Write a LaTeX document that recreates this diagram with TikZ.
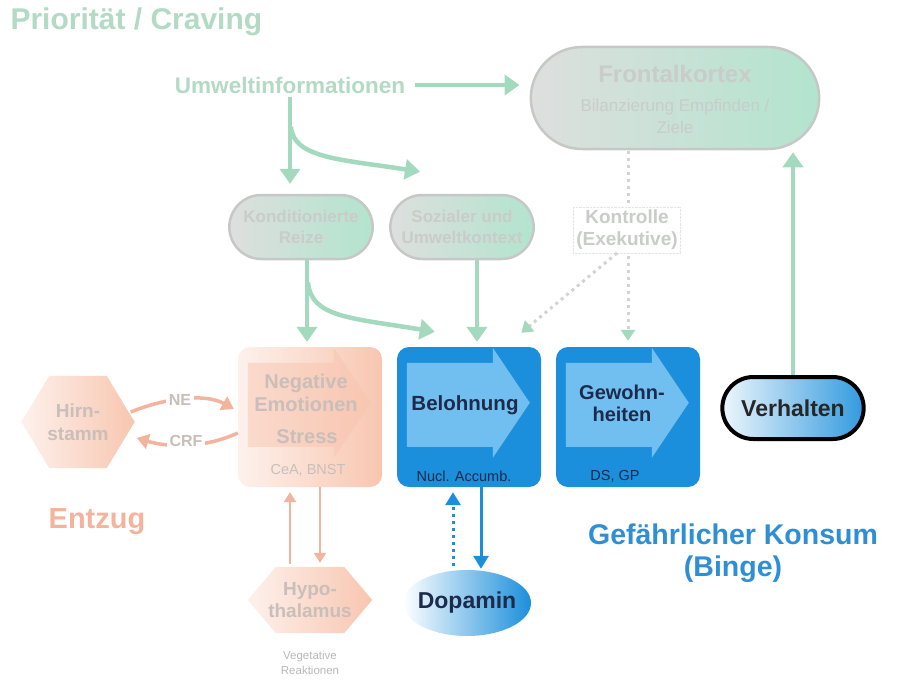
\documentclass[tikz,border=0pt]{standalone}
\usepackage{fontspec}
\setmainfont{Liberation Sans}
\usetikzlibrary{arrows.meta,shapes.misc,shapes.geometric,calc}
\definecolor{grn}{HTML}{A3D9BE}
\definecolor{grntxt}{HTML}{B2DAC4}
\definecolor{pillL}{HTML}{DEDFDE}
\definecolor{pillR}{HTML}{B2E4CE}
\definecolor{pillB}{HTML}{C6C8C6}
\definecolor{pilltxt}{HTML}{C9CCC9}
\definecolor{sal}{HTML}{F2B49C}
\definecolor{salL}{HTML}{FDF1EC}
\definecolor{salR}{HTML}{F8C6B0}
\definecolor{salA}{HTML}{F8C2AC}
\definecolor{saltxt}{HTML}{C9BEBA}
\definecolor{blu}{HTML}{1B8FDB}
\definecolor{bluL}{HTML}{70BFF0}
\definecolor{navy}{HTML}{1C2B4C}
\definecolor{konsum}{HTML}{2E8FD5}
\definecolor{dotc}{HTML}{D2D4D2}
\definecolor{vegc}{HTML}{B8B8B8}
\newcommand\fsz[2]{\fontsize{#1}{#2}\selectfont}
\newcommand\innerarr[3]{%
  \fill[#2, fill opacity=#3] ($(#1.north west)+(10,16)$) -- ($(#1.north west)+(96,16)$) -- ($(#1.north west)+(96,1)$)
    -- ($(#1.north west)+(133,56)$) -- ($(#1.north west)+(96,111)$) -- ($(#1.north west)+(96,100)$)
    -- ($(#1.north west)+(10,100)$) -- cycle;}
\begin{document}
\begin{tikzpicture}[x=1pt,y=-1pt,
  garrow/.style={draw=grn, line width=4.5pt, -{Triangle[length=15pt,width=20pt]}},
  sarrow/.style={draw=sal, line width=3.5pt, -{Triangle[length=12pt,width=15pt]}},
  sthin/.style={draw=sal, line width=2.5pt, -{Triangle[length=10pt,width=12pt]}},
  barrow/.style={draw=blu, line width=3pt, -{Triangle[length=13pt,width=15pt]}},
  dotarrow/.style={draw=dotc, line width=3pt, dash pattern=on 3pt off 4pt, -{Triangle[length=11pt,width=14pt,color=grn]}},
  pill/.style={rounded rectangle, draw=pillB, line width=2.5pt, left color=pillL, right color=pillR, text=pilltxt, align=center, font=\bfseries},
  box/.style={rectangle, rounded corners=12pt, minimum width=144pt, minimum height=140pt, inner sep=0pt},
  lbl/.style={font=\bfseries, align=center}
]
\useasboundingbox (0,0) rectangle (899,682);

% title
\node[anchor=west, text=grntxt, font=\bfseries\fsz{30}{35}] (title) at (7,22) {Priorität / Craving};

% top nodes
\node[lbl, text=grntxt, font=\bfseries\fsz{22.5}{27}] (umwelt) at (290,85) {Umweltinformationen};
\node[pill, minimum width=295pt, minimum height=102pt] (front) at (675,98) {};
\node[lbl, text=pilltxt, font=\bfseries\fsz{24}{28}] (frontt) at (675,74) {Frontalkortex};
\node[lbl, text=pilltxt, font=\fsz{17}{22}] (frontsub) at (675,116) {Bilanzierung Empfinden /\\Ziele};
\node[pill, minimum width=150pt, minimum height=64pt, font=\bfseries\fsz{17}{21}] (kond) at (301,227) {Konditionierte\\Reize};
\node[pill, minimum width=150pt, minimum height=64pt, font=\bfseries\fsz{17}{21}] (soz) at (462,227) {Sozialer und\\Umweltkontext};

% boxes
\node[box, left color=salL, right color=salR] (neg) at (310,417) {};
\innerarr{neg}{salA}{0.45}
\node[box, fill=blu] (bel) at (469,417) {};
\innerarr{bel}{bluL}{1}
\node[box, fill=blu] (gew) at (628,417) {};
\innerarr{gew}{bluL}{1}

\node[lbl, text=saltxt, font=\bfseries\fsz{20}{23}] (negt) at (306,393) {Negative\\Emotionen};
\node[lbl, text=saltxt, font=\bfseries\fsz{20}{23}] (stress) at (307,437) {Stress};
\node[lbl, text=saltxt, font=\fsz{14.5}{17}] (cea) at (308,470) {CeA, BNST};

\node[lbl, text=navy, font=\bfseries\fsz{20.5}{24}] (belt) at (465,405) {Belohnung};
\node[lbl, text=navy, font=\fsz{14.5}{17}] (nucl) at (464,476) {Nucl. Accumb.};

\node[lbl, text=navy, font=\bfseries\fsz{20}{22}] (gewt) at (622,403) {Gewohn-\\heiten};
\node[lbl, text=navy, font=\fsz{14.5}{17}] (dsgp) at (615,476) {DS, GP};

% Verhalten
\node[rounded rectangle, draw=black, line width=4pt, left color=white!92!blu, right color=blu!90!white,
      minimum width=148pt, minimum height=62pt, font=\bfseries\fsz{23}{27}, text=black!85] (verh) at (793,408) {Verhalten};

% Dopamin
\node[ellipse, left color=white, right color=blu, minimum width=128pt, minimum height=66pt, inner sep=0pt] (dopa) at (467,603) {};
\node[lbl, font=\bfseries\fsz{23}{27}, text=navy] (dopat) at (dopa) {Dopamin};

% Hirnstamm hexagon
\node[minimum width=113pt, minimum height=92pt, inner sep=0pt] (hirn) at (78,422) {};
\shade[left color=salL, right color=salR]
  (hirn.west) -- ($(hirn.north west)+(28,0)$) -- ($(hirn.north east)+(-28,0)$) -- (hirn.east)
  -- ($(hirn.south east)+(-28,0)$) -- ($(hirn.south west)+(28,0)$) -- cycle;
\node[lbl, text=saltxt, font=\bfseries\fsz{19}{23}] at (hirn) {Hirn-\\stamm};

% Hypothalamus hexagon
\node[minimum width=124pt, minimum height=66pt, inner sep=0pt] (hypo) at (310,600) {};
\shade[left color=salL, right color=salR]
  (hypo.west) -- ($(hypo.north west)+(28,0)$) -- ($(hypo.north east)+(-28,0)$) -- (hypo.east)
  -- ($(hypo.south east)+(-28,0)$) -- ($(hypo.south west)+(28,0)$) -- cycle;
\node[lbl, text=saltxt, font=\bfseries\fsz{19}{22}] at (hypo) {Hypo-\\thalamus};
\node[lbl, text=vegc, font=\fsz{11.5}{15}] (veg) at (310,663) {Vegetative\\Reaktionen};

% other texts
\node[text=sal, font=\bfseries\fsz{29}{34}] (entzug) at (97,522) {Entzug};
\node[lbl, text=konsum, font=\bfseries\fsz{28.5}{32}] (konsum) at (733,553) {Gefährlicher Konsum\\(Binge)};

% ---------- connectors ----------
% Umwelt -> Frontalkortex
\draw[garrow, shorten <=6pt, shorten >=10pt] (umwelt.east) -- (umwelt.east -| front.west);
% Umwelt -> Konditionierte
\draw[garrow, shorten >=10pt] (umwelt.south) -- (umwelt.south |- kond.north);
% Umwelt -> Sozialer (curve)
\coordinate (c1) at ($(umwelt.south)+(1,30)$);
\coordinate (c1e) at ($(soz.north)+(-42,-22)$);
\draw[garrow] (c1) .. controls ($(c1)+(2,32)$) and ($(c1e)+(-75,-12)$) .. (c1e);
% Kond -> Negative
\draw[garrow, shorten >=5pt] ($(kond.south)+(6,0)$) coordinate (k1) -- (k1 |- neg.north);
% Kond -> Belohnung (curve)
\coordinate (c2) at ($(kond.south)+(7,22)$);
\coordinate (c2e) at ($(bel.north west)+(38,-15)$);
\draw[garrow] (c2) .. controls ($(c2)+(3,35)$) and ($(c2e)+(-85,-14)$) .. (c2e);
% Sozialer -> Belohnung
\coordinate (s1) at ($(soz.south)+(15,0)$);
\draw[garrow, shorten >=5pt] (s1) -- (s1 |- bel.north);
% Verhalten -> Frontalkortex
\draw[garrow, shorten >=2pt] (verh.north) -- (verh.north |- front.south);

% Frontal -> Gewohnheiten (dotted) and Kontrolle -> Belohnung (dotted)
\coordinate (fk) at (628,151);
\draw[dotarrow, shorten >=6pt] (fk) -- (fk |- gew.north);
\node[lbl, fill=white, draw=dotc!60, densely dotted, thin, text=pilltxt, font=\bfseries\fsz{19}{22}, inner sep=3pt] (kontr) at (627,230) {Kontrolle\\(Exekutive)};
\coordinate (k2) at ($(kontr.south)+(-10,0)$);
\coordinate (k2e) at ($(bel.north east)+(-20,-14)$);
\draw[dotarrow] (k2) -- (k2e);

% Hirnstamm <-> Negative
\draw[sarrow] ($(hirn.east)+(-4,-10)$) .. controls (165,398) and (205,393) .. ($(neg.west)+(-4,-8)$);
\draw[sarrow] ($(neg.west)+(0,16)$) .. controls (205,448) and (170,448) .. ($(hirn.east)+(2,16)$);
\node[lbl, fill=white, text=saltxt, font=\bfseries\fsz{16}{19}, inner sep=3pt] (ne) at (180,400) {NE};
\node[lbl, fill=white, text=saltxt, font=\bfseries\fsz{16}{19}, inner sep=3pt] (crf) at (186,441) {CRF};

% Negative <-> Hypothalamus
\coordinate (h1) at ($(hypo.north)+(-20,-3)$);
\draw[sthin, shorten >=5pt] (h1) -- (h1 |- neg.south);
\coordinate (h2) at ($(neg.south)+(10,0)$);
\draw[sthin, shorten >=4pt] (h2) -- (h2 |- hypo.north);

% Belohnung <-> Dopamin
\coordinate (d1) at ($(dopa.north)+(-14,-4)$);
\draw[barrow, dash pattern=on 3pt off 4pt, shorten >=5pt] (d1) -- (d1 |- bel.south);
\coordinate (d2) at ($(bel.south)+(12,0)$);
\draw[barrow, shorten >=1pt] (d2) -- (d2 |- dopa.north);
\end{tikzpicture}
\end{document}
